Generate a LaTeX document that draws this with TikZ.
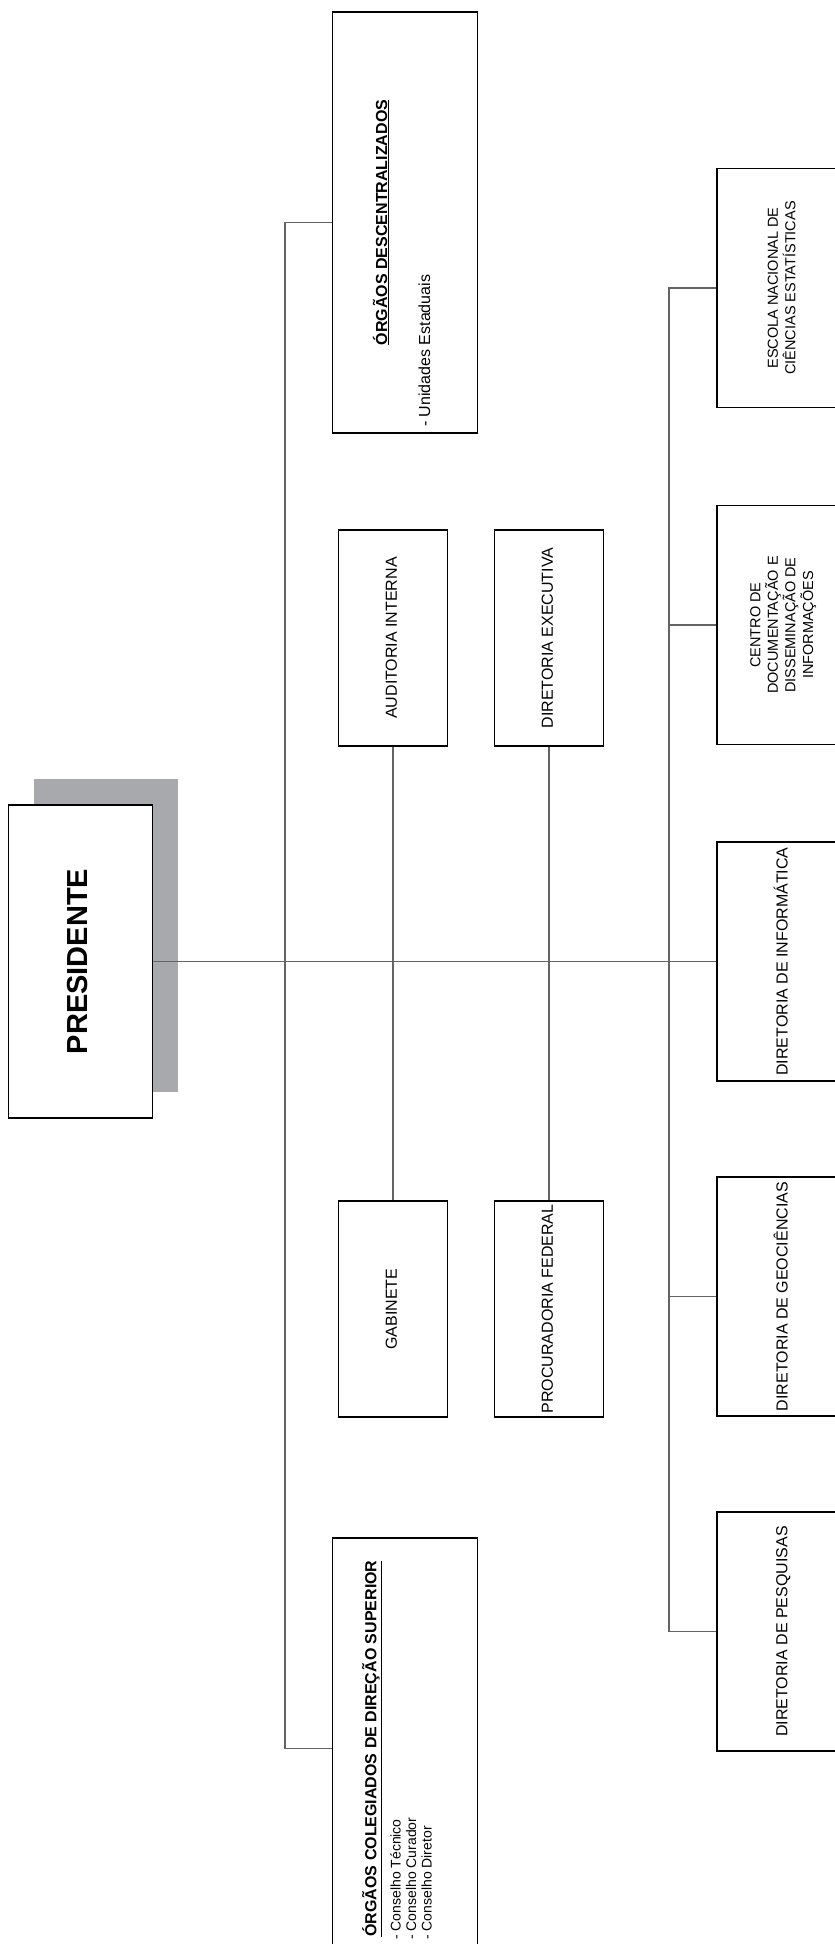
\documentclass[tikz,border=0pt]{standalone}
\usepackage{fontspec}
\setmainfont{Liberation Sans}
\usepackage{graphicx}
\usetikzlibrary{shadows}
\definecolor{shadowgray}{RGB}{167,169,172}
\definecolor{linegray}{RGB}{100,100,100}
\newcommand{\vtxt}[1]{\rotatebox{90}{\begin{tabular}{@{}c@{}}#1\end{tabular}}}
\tikzset{
 orgbox/.style={draw,line width=1.7pt,fill=white,inner sep=0pt,font=\fontsize{16}{19}\selectfont},
 presbox/.style={orgbox,minimum width=144,minimum height=313,font=\fontsize{29}{34}\selectfont\bfseries,
  drop shadow={shadow xshift=25pt,shadow yshift=26pt,fill=shadowgray,opacity=1}},
 bigbox/.style={orgbox,minimum width=145,minimum height=421},
 midbox/.style={orgbox,minimum width=109,minimum height=216},
 sidebox/.style={orgbox,minimum width=133,minimum height=239},
 tightbox/.style={sidebox,font=\fontsize{14.5}{16}\selectfont},
 headtxt/.style={rotate=90,inner sep=0pt,font=\fontsize{16}{19}\selectfont\bfseries},
 listtxt/.style={rotate=90,inner sep=0pt,align=left,font=\fontsize{16}{19}\selectfont},
 link/.style={draw=linegray,line width=1.3pt}
}
\begin{document}
\begin{tikzpicture}[x=1pt,y=-1pt]
\clip (0,0) rectangle (835,1944);
\node[presbox] (pres) at (80.5,961.5) {\vtxt{PRESIDENTE}};
\node[bigbox] (desc) at (405,222.5) {};
\node[headtxt] (desctitle) at (381,222.5) {\underline{ÓRGÃOS DESCENTRALIZADOS}};
\node[listtxt,anchor=base west] (desclist) at (430,427) {- Unidades Estaduais};
\node[bigbox] (coleg) at (405,1748.5) {};
\node[headtxt] (colegtitle) at (372,1748.5) {\underline{ÓRGÃOS COLEGIADOS DE DIREÇÃO SUPERIOR}};
\node[listtxt,anchor=north west,font=\fontsize{14}{15.5}\selectfont] (coleglist) at (390,1940) {- Conselho Técnico\\- Conselho Curador\\- Conselho Diretor};
\node[midbox] (audit) at (393,638) {\vtxt{AUDITORIA INTERNA}};
\node[midbox] (exec) at (549,638) {\vtxt{DIRETORIA EXECUTIVA}};
\node[midbox] (gab) at (393,1309) {\vtxt{GABINETE}};
\node[midbox] (proc) at (549,1309) {\vtxt{PROCURADORIA FEDERAL}};
\node[tightbox] (escola) at (783.5,288) {\vtxt{ESCOLA NACIONAL DE\\CIÊNCIAS ESTATÍSTICAS}};
\node[tightbox] (centro) at (783.5,625) {\vtxt{CENTRO DE\\DOCUMENTAÇÃO E\\DISSEMINAÇÃO DE\\INFORMAÇÕES}};
\node[sidebox] (info) at (783.5,961.5) {\vtxt{DIRETORIA DE INFORMÁTICA}};
\node[sidebox] (geo) at (783.5,1296.5) {\vtxt{DIRETORIA DE GEOCIÊNCIAS}};
\node[sidebox] (pesq) at (783.5,1631.5) {\vtxt{DIRETORIA DE PESQUISAS}};
\coordinate (lbus) at (285,961.5);
\coordinate (rbus) at (669,961.5);
\draw[link] (pres.east) -- (info.west);
\draw[link] (desc.west) -- (desc.west -| lbus) -- (coleg.west -| lbus) -- (coleg.west);
\draw[link] (escola.west) -- (escola.west -| rbus) -- (pesq.west -| rbus) -- (pesq.west);
\draw[link] (centro.west) -- (centro.west -| rbus);
\draw[link] (geo.west) -- (geo.west -| rbus);
\draw[link] (audit.south) -- (gab.north);
\draw[link] (exec.south) -- (proc.north);
\end{tikzpicture}
\end{document}
